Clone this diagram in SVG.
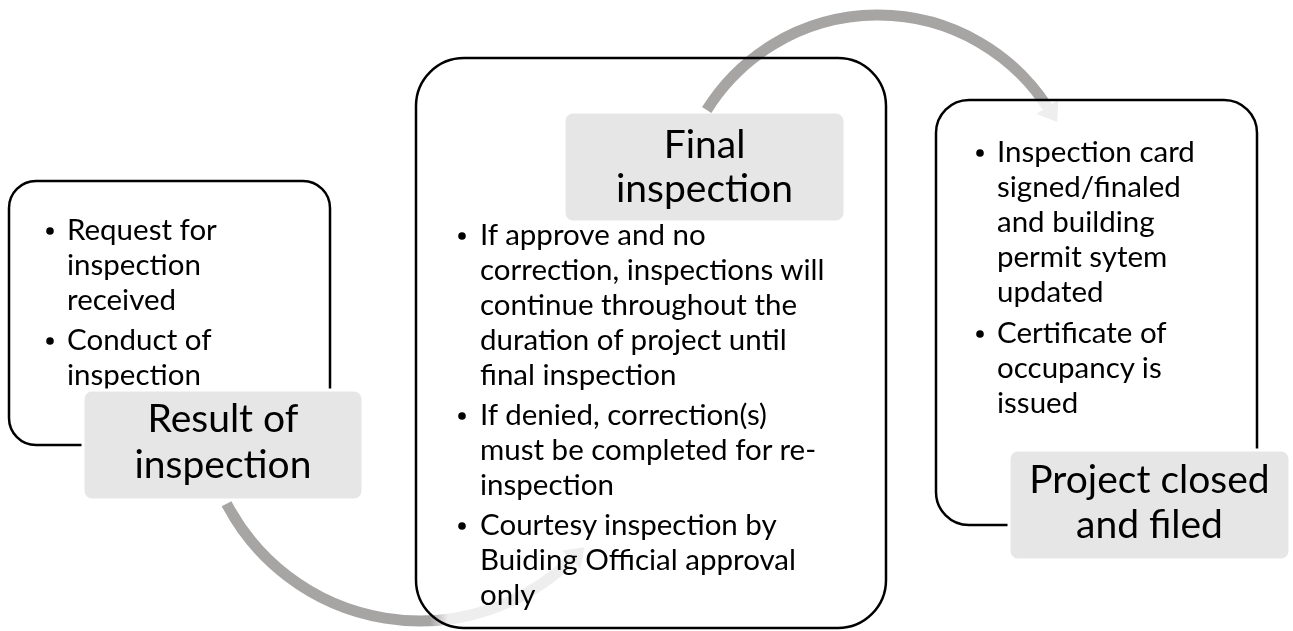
<svg xmlns="http://www.w3.org/2000/svg" width="1293" height="631" viewBox="0 0 1293 631">
<style>
.box { fill: #ffffff; stroke: #000000; stroke-width: 2.5; }
.hdr { fill: #e6e6e6; stroke: #ffffff; stroke-width: 3; }
.body { font-family: Lato, "Liberation Sans", sans-serif; font-size: 29.5px; fill: #000000; }
.head { font-family: Lato, "Liberation Sans", sans-serif; font-size: 39px; fill: #000000; text-anchor: middle; }
.dot { fill: #000000; }
.conn { mix-blend-mode: multiply; }
.arc { fill: none; stroke-width: 11; }
</style>
<defs>
<linearGradient id="g1" gradientUnits="userSpaceOnUse" x1="430" y1="0" x2="448" y2="0">
<stop offset="0" stop-color="#a7a4a4"/>
<stop offset="1" stop-color="#efeeee"/>
</linearGradient>
<linearGradient id="g2" gradientUnits="userSpaceOnUse" x1="1044.926" y1="99" x2="1045.074" y2="101">
<stop offset="0" stop-color="#a7a4a4"/>
<stop offset="1" stop-color="#efeeee"/>
</linearGradient>
</defs>

<g id="node-request">
<rect class="box" x="9" y="181" width="321" height="264" rx="27" ry="27"/>
<circle class="dot" cx="50" cy="231" r="3.8"/>
<circle class="dot" cx="50" cy="341" r="3.8"/>
<text class="body"><tspan x="67" y="240">Request for</tspan><tspan x="67" y="275">inspection</tspan><tspan x="67" y="310">received</tspan><tspan x="67" y="350">Conduct of</tspan><tspan x="67" y="385">inspection</tspan></text>
</g>
<g id="node-result">
<rect class="hdr" x="83" y="390" width="280" height="110" rx="9" ry="9"/>
<text class="head"><tspan x="223" y="432">Result of</tspan><tspan x="223" y="478">inspection</tspan></text>
</g>

<g id="node-final-box">
<rect class="box" x="416" y="58" width="470" height="570" rx="48" ry="48"/>
<circle class="dot" cx="462" cy="236" r="3.8"/>
<circle class="dot" cx="462" cy="416" r="3.8"/>
<circle class="dot" cx="462" cy="526" r="3.8"/>
<text class="body"><tspan x="480" y="245">If approve and no</tspan><tspan x="480" y="280">correction, inspections will</tspan><tspan x="480" y="315">continue throughout the</tspan><tspan x="480" y="350">duration of project until</tspan><tspan x="480" y="385">final inspection</tspan><tspan x="480" y="425">If denied, correction(s)</tspan><tspan x="480" y="460">must be completed for re-</tspan><tspan x="480" y="495">inspection</tspan><tspan x="480" y="535">Courtesy inspection by</tspan><tspan x="480" y="570">Buiding Official approval</tspan><tspan x="480" y="605">only</tspan></text>
</g>
<g id="node-final">
<rect class="hdr" x="564" y="112" width="281" height="110" rx="9" ry="9"/>
<text class="head"><tspan x="704.5" y="158">Final</tspan><tspan x="704.5" y="202">inspection</tspan></text>
</g>

<g id="node-card">
<rect class="box" x="936" y="100" width="321" height="425" rx="33" ry="33"/>
<circle class="dot" cx="980" cy="153" r="3.8"/>
<circle class="dot" cx="980" cy="334" r="3.8"/>
<text class="body"><tspan x="997" y="162">Inspection card</tspan><tspan x="997" y="197">signed/finaled</tspan><tspan x="997" y="232">and building</tspan><tspan x="997" y="267">permit sytem</tspan><tspan x="997" y="302">updated</tspan><tspan x="997" y="343">Certificate of</tspan><tspan x="997" y="378">occupancy is</tspan><tspan x="997" y="413">issued</tspan></text>
</g>
<g id="node-closed">
<rect class="hdr" x="1009" y="450" width="281" height="110" rx="9" ry="9"/>
<text class="head"><tspan x="1149.5" y="493">Project closed</tspan><tspan x="1149.5" y="538">and filed</tspan></text>
</g>

<g id="connectors" class="conn">
<g id="arrow-result-final">
<path class="arc" stroke="url(#g1)" d="M 226.6 503.7 A 218 218 0 0 0 571.4 559.8"/>
<polygon fill="url(#g1)" points="580.4,569.1 562.4,550.5 584.3,547.3"/>
</g>
<g id="arrow-final-closed">
<path class="arc" stroke="url(#g2)" d="M 706.7 110 A 202 202 0 0 1 1047.4 107"/>
<polygon fill="url(#g2)" points="1058.3,99.9 1036.5,114.1 1057.2,122.1"/>
</g>
</g>
</svg>
